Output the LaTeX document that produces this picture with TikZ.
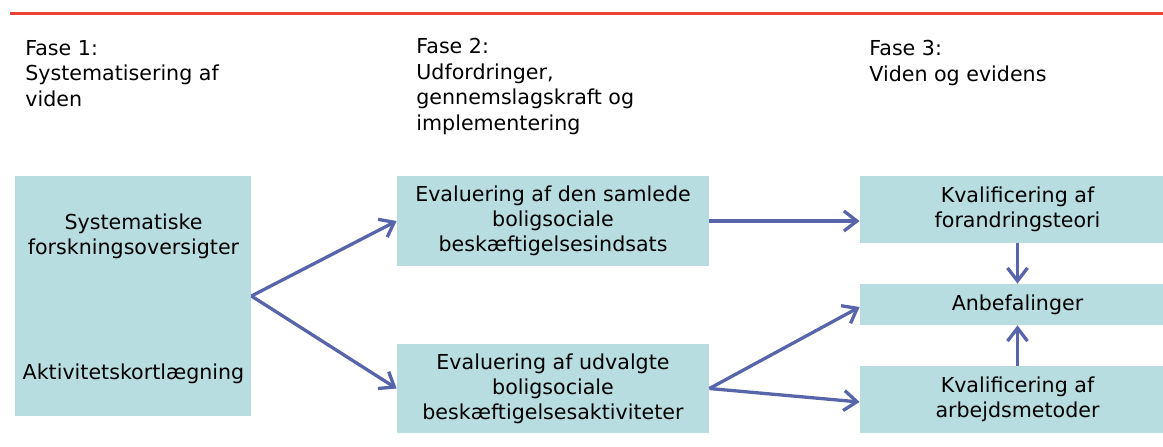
\documentclass[tikz,border=0pt]{standalone}
\usepackage{fontspec}
\setmainfont{DejaVu Sans}
\usetikzlibrary{positioning}
\usetikzlibrary{arrows.meta}
\definecolor{boxfill}{RGB}{183,221,224}
\definecolor{arrowblue}{RGB}{88,101,171}
\definecolor{topred}{RGB}{238,66,54}
\tikzset{box/.style={fill=boxfill,inner sep=0pt,align=center,font=\fontsize{10.3}{12.5}\selectfont}}
\tikzset{phase/.style={anchor=base west,inner sep=0pt,align=left,font=\fontsize{10.3}{12.75}\selectfont}}
\tikzset{flow/.style={draw=arrowblue,line width=1.65pt,-{Straight Barb[length=6.5pt,width=10pt]}}}

\begin{document}
\begin{tikzpicture}[x=0.5pt, y=-0.5pt]
        \clip (0,0) rectangle (1163,446);
        \draw[topred, line width=1.5pt] (10,13.5) -- (1163,13.5);
        % phases (base = last line)
        \node[phase] (f1) at (25,106) {Fase 1:\\Systematisering af\\viden};
        \node[phase] (f2) at (416,130) {Fase 2:\\Udfordringer,\\gennemslagskraft og\\implementering};
        \node[phase] (f3) at (869,81) {Fase 3:\\Viden og evidens};
        % boxes
        \node[box, minimum width=118pt, minimum height=120pt] (vid) at (133,296) {};
        \node[box, fill=none] (sys) at (133.5,236) {Systematiske\\forskningsoversigter};
        \node[box, fill=none] (akt) at (133.5,374) {Aktivitetskortlægning};
        \node[box, minimum width=156pt, minimum height=45pt] (samlede) at (553,221)
            {Evaluering af den samlede\\boligsociale\\beskæftigelsesindsats};
        \node[box, minimum width=156pt, minimum height=44.5pt] (udvalgte) at (553,388.5)
            {Evaluering af udvalgte\\boligsociale\\beskæftigelsesaktiviteter};
        \node[box, minimum width=157.5pt, minimum height=33.5pt] (forandring) at (1017.5,209.5)
            {Kvalificering af\\forandringsteori};
        \node[box, minimum width=157.5pt, minimum height=20.5pt] (anbef) at (1017.5,304.5)
            {Anbefalinger};
        \node[box, minimum width=157.5pt, minimum height=33.5pt] (metoder) at (1017.5,399.5)
            {Kvalificering af\\arbejdsmetoder};
        % arrows
        \draw[flow] (vid.east) -- (samlede.west);
        \draw[flow] (vid.east) -- (udvalgte.west);
        \draw[flow] (samlede.east) -- (samlede.east -| forandring.west);
        \draw[flow] (udvalgte.east) -- ([yshift=-1.25pt]anbef.west);
        \draw[flow] (udvalgte.east) -- ([yshift=-1.25pt]metoder.west);
        \draw[flow] (forandring.south) -- (anbef.north);
        \draw[flow] (metoder.north) -- (anbef.south);
    \end{tikzpicture}
\end{document}
